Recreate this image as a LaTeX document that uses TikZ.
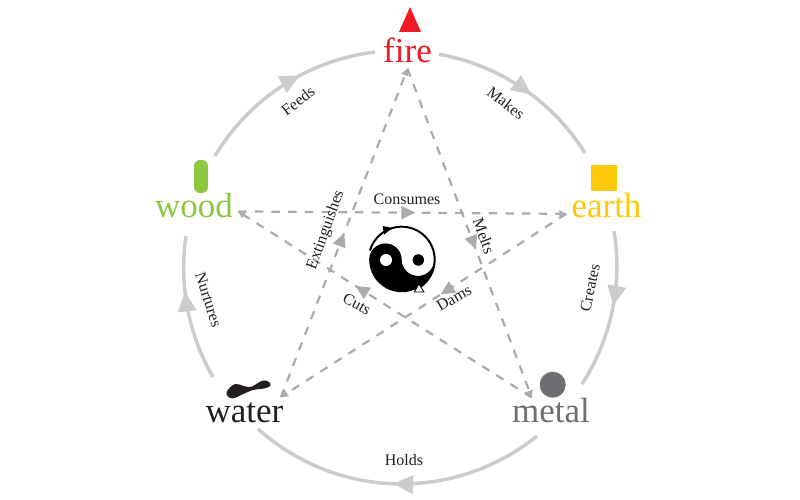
\documentclass[tikz,border=0pt]{standalone}
\usepackage{fontspec}
\setmainfont{Liberation Serif}
\usetikzlibrary{arrows.meta,decorations.markings}

\definecolor{firered}{HTML}{ED1C24}
\definecolor{woodgreen}{HTML}{8DC63F}
\definecolor{earthyellow}{HTML}{FFC90A}
\definecolor{metalgray}{HTML}{6D6E71}
\definecolor{waterblack}{HTML}{231F20}
\definecolor{cyclegray}{HTML}{CCCCCC}
\definecolor{stargray}{HTML}{ABABAB}

\begin{document}
\begin{tikzpicture}[
        x=1pt, y=1pt,
        element/.style={anchor=base, font=\fontsize{35}{35}\selectfont, inner xsep=5pt, inner ysep=5pt},
        verb/.style={font=\fontsize{16}{16}\selectfont, text=waterblack, inner sep=1pt},
        midtip/.style={postaction={decorate}, decoration={markings,
            mark=at position #1 with {\arrow{Triangle[length=14pt,width=13pt]}}}},
        cycletip/.style={postaction={decorate}, decoration={markings,
            mark=at position #1 with {\arrow{Triangle[length=20pt,width=18pt]}}}},
        cycle line/.style={draw=cyclegray, line width=3.5pt},
        star line/.style={draw=stargray, line width=2.2pt, dash pattern=on 8.5pt off 8.2pt,
            -{Triangle[length=7pt,width=7pt]}}
      ]
      \useasboundingbox (0,0) rectangle (800,500);

      \node[element, text=firered] (fire) at (407.5,437) {fire};
      \node[element, text=woodgreen] (wood) at (194,282) {wood};
      \node[element, text=earthyellow] (earth) at (606.5,282) {earth};
      \node[element, text=metalgray, inner ysep=1pt] (metal) at (551,77) {metal};
      \node[element, text=waterblack, inner ysep=6pt] (water) at (244.5,77) {water};

      \fill[firered] (410,493) -- (421,468) -- (399,468) -- cycle;
      \node[draw=none, fill=woodgreen, rounded corners=6pt, minimum width=14pt, minimum height=33pt, inner sep=0pt] (woodicon) at (201,323.5) {};
      \node[fill=earthyellow, minimum size=26pt, inner sep=0pt] (earthicon) at (604,322) {};
      \node[circle, fill=metalgray, minimum size=26pt, inner sep=0pt] (metalicon) at (552.7,115.3) {};
      \fill[waterblack] plot[smooth cycle, tension=.7] coordinates {(226.7,108.3) (235,116) (243.3,114)
          (251.7,113.3) (260,118.3) (266.7,119.3) (270.7,115) (265,111.7) (253.3,110) (243.3,106)
          (233.3,101.7) (228.3,103.3)};

      \coordinate (fireR) at (439,445.7);
      \coordinate (earthT) at (585,347);
      \coordinate (earthB) at (614,269);
      \coordinate (metalT) at (582,116);
      \coordinate (metalB) at (537,64);
      \coordinate (waterB) at (258,71);
      \coordinate (waterT) at (213,123);
      \coordinate (woodB) at (186,264);
      \coordinate (woodT) at (215,344);
      \coordinate (fireL) at (375,448);

      \foreach \a/\b/\c/\d/\e in {fireR/earthT/23.95/.56/.89, earthB/metalT/21.2/.47/.88, metalB/waterB/40.3/.51/.97,
          waterT/woodB/19.35/.62/.87, woodT/fireL/26.1/.6/.9}
        \draw[cycle line, cycletip=\d] (\a) to[bend left=\c, looseness=\e] (\b);

      \draw[star line, midtip=.5] (water.24.8) -- (fire.-90);
      \draw[star line, midtip=.55] (fire.-90) -- (metal.145.2);
      \draw[star line, midtip=.6] (metal.145.2) -- (wood.-7.6);
      \draw[star line, midtip=.54] (wood.-7.6) -- (earth.191);
      \draw[star line, midtip=.44] (earth.191) -- (water.24.8);

      \node[verb, rotate=38] (feeds) at (298,399) {Feeds};
      \node[verb, rotate=-38] (makes) at (506,397) {Makes};
      \node[verb, rotate=78] (creates) at (590,212) {Creates};
      \node[verb] (holds) at (404,40) {Holds};
      \node[verb, rotate=-72] (nurtures) at (208.5,200) {Nurtures};
      \node[verb, rotate=70] (extinguishes) at (326,270) {Extinguishes};
      \node[verb, rotate=-70] (melts) at (484,264) {Melts};
      \node[verb] (consumes) at (407,301) {Consumes};
      \node[verb, rotate=-30] (cuts) at (357,196) {Cuts};
      \node[verb, rotate=30] (dams) at (454,202) {Dams};

      \coordinate (hub) at (401.7,240.3);
      \fill[black] (hub) ++(-32.5,0) arc[start angle=180, end angle=360, radius=32.5]
          arc[start angle=0, end angle=-180, radius=16.25]
          arc[start angle=0, end angle=180, radius=16.25] -- cycle;
      \draw[black, line width=2pt] (hub) ++(164:33) arc[start angle=164, end angle=-66.6, radius=33];
      \node[circle, fill=white, minimum size=12pt, inner sep=0pt] (whitedot) at (386,240) {};
      \node[circle, fill=black, minimum size=11.5pt, inner sep=0pt] (blackdot) at (418.3,240) {};
      \fill[black] (382.7,274) -- (392.3,272) -- (384,265.3) -- cycle;
      \draw[black, fill=white, line width=.8pt] (419,216) -- (414.3,208) -- (424,208) -- cycle;

      \end{tikzpicture}
\end{document}
